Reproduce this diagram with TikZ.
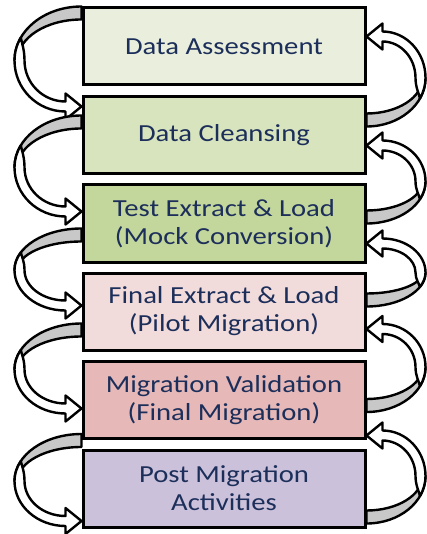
\documentclass[tikz,border=0pt]{standalone}
\usepackage{fontspec}
\newfontfamily\boxfont[FakeStretch=1.17]{Carlito}
\usetikzlibrary{calc}

\definecolor{c1}{HTML}{EAEFDD}
\definecolor{c2}{HTML}{D7E4BD}
\definecolor{c3}{HTML}{C3D69B}
\definecolor{c4}{HTML}{F2DCDB}
\definecolor{c5}{HTML}{E6B9B8}
\definecolor{c6}{HTML}{CCC1DA}
\definecolor{txt}{HTML}{1C2E5A}
\definecolor{backgray}{HTML}{C8C8C8}

\tikzset{
  stage/.style={draw=black, line width=3pt, minimum width=282pt, minimum height=77pt,
    align=center, font=\boxfont\fontsize{24.5}{28}\selectfont, text=txt, inner sep=0pt},
  band/.style={draw=black, line width=2.4pt, line join=round},
  % curved block arrow: starts at the origin (band from y=0 to y=13),
  % bulges to the left by #1 and ends with its tip at (0,#2)
  pics/loop arrow/.style 2 args={code={
    \pgfmathsetmacro\aR{#1}
    \pgfmathsetmacro\aL{#2}
    \pgfmathsetmacro\ayc{0.54*#2}
    \pgfmathsetmacro\aT{13}
    \pgfmathsetmacro\aW{10}
    \pgfmathsetmacro\aHW{13}
    \pgfmathsetmacro\aHL{16}
    % back side of the band
    \pgfmathsetmacro\bOx{-0.5523*\aR}
    \pgfmathsetmacro\bOy{\ayc*(1-0.5523)}
    \pgfmathsetmacro\aRi{\aR-3}
    \pgfmathsetmacro\bIy{\ayc-0.5523*(\ayc-\aT)}
    \pgfmathsetmacro\bIx{-0.5523*\aRi}
    \path[band, fill=backgray] (0,0) .. controls (\bOx,0) and (-\aR,\bOy) .. (-\aR,\ayc)
      -- (-\aRi,\ayc) .. controls (-\aRi,\bIy) and (\bIx,\aT) .. (0,\aT) -- cycle;
    % front side of the band with the head
    \pgfmathsetmacro\fLo{\aL+\aW/2}
    \pgfmathsetmacro\fHi{\aL-\aW/2}
    \pgfmathsetmacro\fCa{\ayc+0.5523*(\fLo-\ayc)}
    \pgfmathsetmacro\fCb{-\aHL-0.5523*(\aR-\aHL)}
    \pgfmathsetmacro\fRw{\aR-\aW}
    \pgfmathsetmacro\fCc{-\aHL-0.5523*(\fRw-\aHL)}
    \pgfmathsetmacro\fCd{\ayc+0.5523*(\fHi-\ayc)}
    \pgfmathsetmacro\hTop{\aL-\aHW}
    \pgfmathsetmacro\hBot{\aL+\aHW}
    \pgfmathsetmacro\sx{-0.906*\aR}
    \pgfmathsetmacro\sy{0.577*\ayc}
    \pgfmathsetmacro\sCa{0.8*\ayc}
    \pgfmathsetmacro\sCb{0.68*\ayc}
    \pgfmathsetmacro\sCx{-0.89*\aR}
    \pgfmathsetmacro\pCx{-0.968*\aR}
    \pgfmathsetmacro\pCa{0.709*\ayc}
    \pgfmathsetmacro\pCb{0.854*\ayc}
    \path[band, fill=white] (-\aR,\ayc)
      .. controls (-\aR,\fCa) and (\fCb,\fLo) .. (-\aHL,\fLo)
      -- (-\aHL,\hBot) -- (0,\aL) -- (-\aHL,\hTop) -- (-\aHL,\fHi)
      .. controls (\fCc,\fHi) and (-\fRw,\fCd) .. (-\fRw,\ayc)
      .. controls (-\fRw,\sCa) and (\sCx,\sCb) .. (\sx,\sy)
      .. controls (\pCx,\pCa) and (-\aR,\pCb) .. cycle;
  }}
}

\begin{document}
\begin{tikzpicture}[x=1pt, y=-1pt]
  \useasboundingbox (0,0) rectangle (426,534);

  % stage boxes (placed first so the arrows can refer to them)
  \path
    node[stage, fill=c1] (s1) at (224,46.5) {Data Assessment}
    node[stage, fill=c2] (s2) at (224,135.5) {Data Cleansing}
    node[stage, fill=c3] (s3) at (224,223.5) {Test Extract \& Load\\(Mock Conversion)}
    node[stage, fill=c4] (s4) at (224,311.5) {Final Extract \& Load\\(Pilot Migration)}
    node[stage, fill=c5] (s5) at (224,400) {Migration Validation\\(Final Migration)}
    node[stage, fill=c6] (s6) at (224,488.5) {Post Migration\\Activities};

  % forward loops on the left
  \pic at ($(s1.north west)+(0,0)$)  {loop arrow={67}{100}};
  \pic at ($(s2.north west)+(0,20)$) {loop arrow={67}{96}};
  \pic at ($(s3.north west)+(0,45)$) {loop arrow={67}{77}};
  \pic at ($(s4.north west)+(0,52)$) {loop arrow={67}{85}};
  \pic at ($(s5.north west)+(0,74)$) {loop arrow={67}{87}};

  % backward loops on the right
  \pic[rotate=180] at ($(s2.north east)+(0,31)$) {loop arrow={59}{90}};
  \pic[rotate=180] at ($(s3.north east)+(0,40)$) {loop arrow={59}{78}};
  \pic[rotate=180] at ($(s4.north east)+(0,35)$) {loop arrow={59}{63}};
  \pic[rotate=180] at ($(s5.north east)+(0,52)$) {loop arrow={59}{83}};
  \pic[rotate=180] at ($(s6.north east)+(0,75)$) {loop arrow={59}{88}};

  % boxes drawn again on top of the arrow ends
  \path
    node[stage, fill=c1] at (s1) {Data Assessment}
    node[stage, fill=c2] at (s2) {Data Cleansing}
    node[stage, fill=c3] at (s3) {Test Extract \& Load\\(Mock Conversion)}
    node[stage, fill=c4] at (s4) {Final Extract \& Load\\(Pilot Migration)}
    node[stage, fill=c5] at (s5) {Migration Validation\\(Final Migration)}
    node[stage, fill=c6] at (s6) {Post Migration\\Activities};
\end{tikzpicture}
\end{document}
